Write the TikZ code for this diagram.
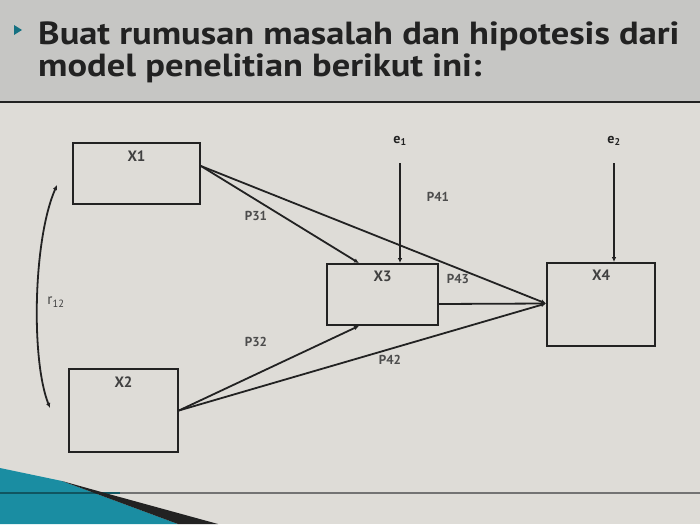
\documentclass[tikz,border=0pt]{standalone}
\usepackage{fontspec}
\setmainfont{PT Sans}
\usepackage{tikz}
\usetikzlibrary{calc}
\usetikzlibrary{arrows.meta}

\definecolor{titlegray}{HTML}{C6C6C4}
\definecolor{paper}{HTML}{DEDCD7}
\definecolor{slideteal}{HTML}{1A8DA2}
\definecolor{ink}{HTML}{222222}

\tikzset{
    varbox/.style={draw=ink, line width=1.8pt, rectangle, inner sep=0pt},
    path/.style={draw=ink, line width=1.8pt, -{Latex[length=5pt,width=4.5pt]}},
    varname/.style={font=\bfseries\fontsize{15}{15}\selectfont, text=black!75},
    coef/.style={font=\bfseries\fontsize{13}{13}\selectfont, text=black!70},
    titletext/.style={anchor=base west, inner sep=0pt, text=ink, font=\bfseries\fontsize{32}{32}\selectfont},
}

\begin{document}
\begin{tikzpicture}[x=1pt, y=-1pt]
        % Slide formulae
        \pgfmathsetmacro{\slidew}{700}
        \pgfmathsetmacro{\slideh}{524}
        \pgfmathsetmacro{\ruley}{102}

        \useasboundingbox (0,0) rectangle (\slidew,\slideh);

        % Slide background
        \begin{scope}
            \fill[titlegray] (0,0) rectangle (\slidew,\ruley);
            \fill[paper] (0,\ruley) rectangle (\slidew,\slideh);
            \draw[line width=2.5pt, ink] (0,\ruley) -- (\slidew,\ruley);
        \end{scope}

        % Title with bullet
        \fill[slideteal!80!black] (14,25) -- (22,30) -- (14,35) -- cycle;
        \node (title1) at (38,45) [titletext] {\scalebox{1.14}[1]{Buat rumusan masalah dan hipotesis dari}};
        \node (title2) at (38,77) [titletext] {\scalebox{1.14}[1]{model penelitian berikut ini:}};

        % Variable boxes
        \node (X1) at (136.5,173.5) [varbox, minimum width=127pt, minimum height=61pt] {};
        \node (X2) at (123.5,410.5) [varbox, minimum width=109pt, minimum height=83pt] {};
        \node (X3) at (382.5,294.5) [varbox, minimum width=111pt, minimum height=61pt] {};
        \node (X4) at (601,304.5) [varbox, minimum width=108pt, minimum height=83pt] {};

        \node at (X1.north) [below=5pt, varname] {X1};
        \node at (X2.north) [below=5pt, varname] {X2};
        \node at (X3.north) [below=4pt, varname] {X3};
        \node at (X4.north) [below=4pt, varname] {X4};

        % Residuals
        \node (e1) at (400,141) [font=\bfseries\fontsize{14}{14}\selectfont, text=ink] {e\textsubscript{1}};
        \node (e2) at (614,141) [font=\bfseries\fontsize{14}{14}\selectfont, text=ink] {e\textsubscript{2}};

        % Paths
        \begin{scope}
            \draw[path] ($(X1.east)+(0,-7.5)$) -- ($(X3.north)+(-23.5,0)$);
            \draw[path] ($(X1.east)+(0,-7.5)$) -- ($(X4.west)+(0,-1)$);
            \draw[path] ($(X3.east)+(0,9.5)$) -- ($(X4.west)+(0,-1)$);
            \draw[path] (X2.east) -- ($(X3.south)+(-23.5,0)$);
            \draw[path] (X2.east) -- ($(X4.west)+(0,-1)$);
            \draw[path] ($(e1)+(0,22)$) -- (e1 |- X3.north);
            \draw[path] ($(e2)+(0,22)$) -- (e2 |- X4.north);
        \end{scope}

        % Correlation between X1 and X2
        \coordinate (r12top) at (57,185);
        \coordinate (r12bot) at (50,408);
        \draw[path, {Latex[length=5pt,width=4.5pt]}-{Latex[length=5pt,width=4.5pt]}]
            (r12top) .. controls (33,240) and (31,360) .. (r12bot);
        \node (r12) at (56,302) [font=\fontsize{15}{15}\selectfont, text=black!75] {r\textsubscript{12}};

        % Path coefficients
        \node (p31) at (256,216) [coef] {P31};
        \node (p32) at (256,342) [coef] {P32};
        \node (p41) at (438,197) [coef] {P41};
        \node (p42) at (390,360) [coef] {P42};
        \node (p43) at (458,279) [coef] {P43};

        % Slide footer decoration
        \begin{scope}
            \draw[line width=1.5pt, black!55] (0,493) -- (\slidew,493);
            \fill[slideteal] (0,468) -- (62,481) -- (178,524) -- (0,524) -- cycle;
            \draw[line width=1.5pt, slideteal!60!black] (0,493) -- (120,493);
            \fill[ink] (62,481) -- (105,493) -- (218,524) -- (178,524) -- cycle;
        \end{scope}

    \end{tikzpicture}
\end{document}
